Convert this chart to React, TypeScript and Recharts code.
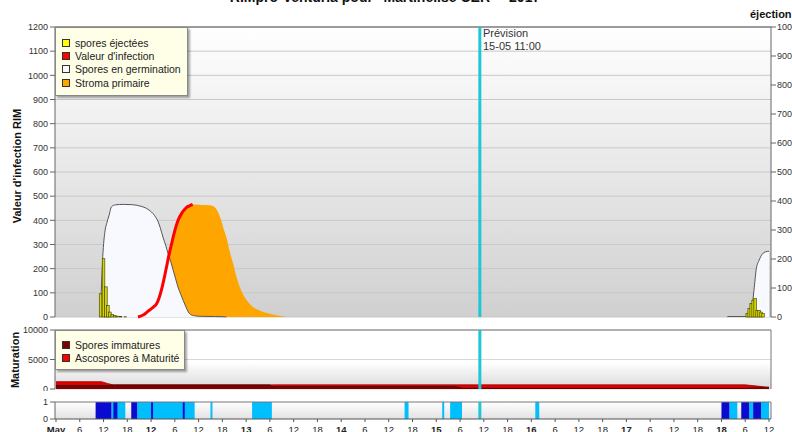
import React from "react";
import { ComposedChart, Area, Line, Bar, XAxis, YAxis, CartesianGrid, ReferenceLine } from "recharts";

const FONT = "'Liberation Sans', Arial, sans-serif";

// hours counted from 11 May 00:00
const germEarly: [number, number][] = [
  [11.2, 0], [11.8, 249], [12.4, 359], [12.8, 387], [13.4, 421], [14, 456], [15, 464], [17, 466], [19, 465],
  [20.5, 462], [21.5, 458], [22.9, 449], [23.7, 440], [24.5, 428], [25.2, 412], [25.8, 394], [26.4, 365],
  [27, 331], [27.7, 296], [28.3, 262], [29, 228], [29.6, 193], [30.2, 158], [30.8, 124], [31.5, 94],
  [32.1, 69], [32.8, 42], [33.4, 21], [34, 10], [35, 5], [36, 3], [40, 2], [42.5, 1], [43, 0],
];
const germLate: [number, number][] = [
  [169.4, 0], [169.6, 2], [174.5, 2], [175.4, 8], [176.2, 110], [176.8, 200], [177.5, 235], [178.3, 260], [179.2, 270], [180, 272],
];
const infection: [number, number][] = [
  [20.7, 0], [22, 8], [23.3, 25], [24.5, 40], [25.4, 55], [26, 78], [26.6, 111], [27.3, 160], [27.9, 207],
  [28.5, 255], [29.2, 304], [29.8, 345], [30.4, 380], [31, 407], [31.7, 428], [32.3, 442], [32.9, 453], [33.7, 460], [34.5, 466],
];
const stroma: [number, number][] = [
  [26, 0], [26.6, 111], [27.3, 160], [27.9, 207], [28.5, 255], [29.2, 304], [29.8, 345], [30.4, 380], [31, 407],
  [31.7, 428], [32.3, 442], [32.9, 453], [33.7, 460], [34.5, 466], [36, 465], [38, 463], [39.5, 460], [40.3, 450],
  [41, 430], [41.7, 400], [42.3, 365], [43, 331], [43.8, 275], [44.7, 221], [45.5, 170], [46.4, 124], [47.6, 83],
  [48.6, 60], [49.7, 41], [51, 30], [52.3, 21], [54, 13], [55.6, 7], [57, 3], [58.6, 0],
];
const sporesEjected: [number, number][] = [
  [11.25, 80], [12, 201], [12.6, 104], [13.1, 40], [13.6, 17], [14.2, 9], [14.8, 5], [15.5, 3], [16.3, 2], [17.5, 1],
  [174.5, 12], [175, 29], [175.5, 46], [176, 58], [176.5, 64], [177, 23], [177.5, 23], [178, 17], [178.5, 12],
];

const matHours = [0, 11.5, 13, 14.5, 54, 55, 101, 102.5, 174, 177, 179, 180];
const immatures = [680, 680, 680, 680, 680, 450, 450, 220, 220, 250, 280, 280];
const matures = [560, 560, 250, 0, 0, 250, 250, 480, 480, 250, 60, 0];

// wet periods [start, end] in hours
const wetLight: [number, number][] = [
  [14, 17.5], [20.5, 35], [39, 39.5], [49.5, 54.5], [88, 89], [97.5, 98], [99.5, 102.5], [121, 122], [170, 172], [175, 176], [178, 180],
];
const wetDark: [number, number][] = [
  [10, 14], [14.5, 15.5], [19, 20.5], [24, 24.5], [32, 32.5], [168, 170], [173, 175], [176, 178],
];

const leftTicks = [0, 100, 200, 300, 400, 500, 600, 700, 800, 900, 1000, 1100, 1200];
const rightTicks = [0, 100, 200, 300, 400, 500, 600, 700, 800, 900, 1000];
const matTicks = [0, 5000, 10000];
const xTicks = [0, 6, 12, 18, 24, 30, 36, 42, 48, 54, 60, 66, 72, 78, 84, 90, 96, 102, 108, 114, 120, 126, 132, 138, 144, 150, 156, 162, 168, 174, 180];
const xTickLabels = ["May", "6", "12", "18", "12", "6", "12", "18", "13", "6", "12", "18", "14", "6", "12", "18", "15", "6", "12", "18", "16", "6", "12", "18", "17", "6", "12", "18", "18", "6", "12"];
const forecastHour = 107;

const mainLegend = [
  { label: "spores éjectées", color: "#ffff00" },
  { label: "Valeur d'infection", color: "#ff0000" },
  { label: "Spores en germination", color: "#f8f8ff" },
  { label: "Stroma primaire", color: "#ffa500" },
];
const matLegend = [
  { label: "Spores immatures", color: "#800000" },
  { label: "Ascospores à Maturité", color: "#ff0000" },
];

function mergeRows(series: Record<string, [number, number][]>) {
  const map = new Map<number, any>();
  for (const [key, pts] of Object.entries(series)) {
    for (const [h, v] of pts) {
      const row = map.get(h) ?? { h };
      row[key] = v;
      map.set(h, row);
    }
  }
  return [...map.values()].sort((a, b) => a.h - b.h);
}
// on/off steps from [start, end] spans
const spanSteps = (spans: [number, number][]) => spans.flatMap(([a, b]) => [[a, 1], [b, 0]] as [number, number][]);

const mainRows = mergeRows({ germA: germEarly, germB: germLate, inf: infection, stroma, spores: sporesEjected });
const matRows = matHours.map((h, i) => ({ h, imm: immatures[i], mat: matures[i] }));
const wetRows = mergeRows({ light: spanSteps(wetLight), dark: spanSteps(wetDark) });

const axisTick = { fontSize: 9, fill: "#333", fontFamily: FONT };
const CYAN = "#1cc8d6";

// band size on a numeric axis gets tiny with uneven x spacing, so draw each bar a fixed 2.6px wide around its centre
function SporeBar(p: any) {
  if (!Number.isFinite(p.height) || !Number.isFinite(p.y) || p.height <= 0) return null;
  const cx = p.x + p.width / 2;
  return <rect x={cx - 1.3} y={p.y} width={2.6} height={p.height} fill="#d4d400" stroke="#3a3a00" strokeWidth={0.6} />;
}

function TimeTick({ x, y, payload }: any) {
  const i = xTicks.indexOf(payload.value);
  const day = payload.value % 24 === 0;
  return (
    <text x={x} y={y} dy={8} textAnchor="middle" fontSize={9.5} fontWeight={day ? 700 : 400} fill="#222" fontFamily={FONT}>
      {xTickLabels[i]}
    </text>
  );
}

function LegendBox({ items, left, top, width, height, padTop, row }: any) {
  return (
    <div style={{ position: "absolute", left, top, width, height, boxSizing: "border-box", background: "#ffffe8",
      border: "1px solid #888", boxShadow: "2px 2px 2px rgba(0,0,0,0.35)", paddingTop: padTop, paddingLeft: 6 }}>
      {items.map((it: any) => (
        <div key={it.label} style={{ display: "flex", alignItems: "center", height: row, fontSize: 10.5, color: "#222", whiteSpace: "nowrap" }}>
          <span style={{ width: 8, height: 8, boxSizing: "border-box", border: "1px solid #333", background: it.color, marginRight: 5 }} />
          {it.label}
        </div>
      ))}
    </div>
  );
}

const rotated = (cx: number, cy: number): React.CSSProperties => ({
  position: "absolute", left: cx, top: cy, transform: "translate(-50%,-50%) rotate(-90deg)",
  whiteSpace: "nowrap", fontSize: 11, fontWeight: 700, color: "#111",
});

export default function App() {
  return (
    <div style={{ position: "absolute", left: 0, top: 0, width: 792, height: 432, overflow: "hidden", background: "white", fontFamily: FONT }}>
      <div style={{ position: "absolute", left: 0, top: -11, width: 770, textAlign: "center", fontSize: 14, fontWeight: 700, color: "#111", whiteSpace: "nowrap" }}>
        RIMpro-Venturia pour "Martinelise CER" - 2017
      </div>

      {/* main RIM panel */}
      <div style={{ position: "absolute", left: 0, top: 0 }}>
        <ComposedChart width={792} height={320} data={mainRows} margin={{ top: 27, right: 0, bottom: 3, left: 0 }}>
          <defs>
            <linearGradient id="bgMain" x1="0" y1="0" x2="0" y2="1">
              <stop offset="0%" stopColor="#ffffff" />
              <stop offset="100%" stopColor="#d0d0d0" />
            </linearGradient>
          </defs>
          <CartesianGrid yAxisId="left" vertical={false} stroke="#c8c8c8" fill="url(#bgMain)" fillOpacity={1} />
          <XAxis dataKey="h" type="number" domain={[0, 180]} ticks={xTicks} allowDataOverflow padding={{ left: 1, right: 2 }}
            height={0} tick={false} tickLine={false} axisLine={{ stroke: "#555" }} />
          <YAxis yAxisId="left" domain={[0, 1200]} ticks={leftTicks} interval={0} width={55} tickSize={5} tickMargin={2}
            tick={axisTick} axisLine={{ stroke: "#666" }} tickLine={{ stroke: "#666" }} />
          <YAxis yAxisId="right" orientation="right" domain={[0, 1000]} ticks={rightTicks} interval={0} width={21} tickSize={5} tickMargin={1}
            tick={axisTick} axisLine={{ stroke: "#666" }} tickLine={{ stroke: "#666" }} />
          <Area yAxisId="left" dataKey="stroma" type="monotone" fill="#ffa500" fillOpacity={1} stroke="none" connectNulls isAnimationActive={false} />
          <Area yAxisId="left" dataKey="germA" type="monotone" fill="#f8f8ff" fillOpacity={1} stroke="#555" strokeWidth={1} connectNulls isAnimationActive={false} />
          <Area yAxisId="left" dataKey="germB" type="monotone" fill="#f8f8ff" fillOpacity={1} stroke="#555" strokeWidth={1} connectNulls isAnimationActive={false} />
          <Line yAxisId="left" dataKey="inf" type="monotone" stroke="#ff0000" strokeWidth={3} dot={false} connectNulls isAnimationActive={false} />
          <Bar yAxisId="right" dataKey="spores" shape={<SporeBar />} isAnimationActive={false} />
          <ReferenceLine yAxisId="left" y={1200} stroke="#555" />
          <ReferenceLine yAxisId="left" x={forecastHour} stroke={CYAN} strokeWidth={3} />
        </ComposedChart>
      </div>

      {/* maturation panel */}
      <div style={{ position: "absolute", left: 0, top: 320 }}>
        <ComposedChart width={792} height={71} data={matRows} margin={{ top: 10, right: 0, bottom: 2, left: 0 }}>
          <defs>
            <linearGradient id="bgMat" x1="0" y1="0" x2="0" y2="1">
              <stop offset="0%" stopColor="#ffffff" />
              <stop offset="55%" stopColor="#ffffff" />
              <stop offset="100%" stopColor="#d8d8d8" />
            </linearGradient>
          </defs>
          <CartesianGrid yAxisId="m" vertical={false} stroke="#d8d8d8" fill="url(#bgMat)" fillOpacity={1} />
          <XAxis dataKey="h" type="number" domain={[0, 180]} allowDataOverflow padding={{ left: 1, right: 2 }}
            height={0} tick={false} tickLine={false} axisLine={{ stroke: "#555" }} />
          <YAxis yAxisId="m" domain={[0, 10000]} ticks={matTicks} interval={0} width={55} tickSize={5} tickMargin={2}
            tick={axisTick} axisLine={{ stroke: "#666" }} tickLine={{ stroke: "#666" }} />
          <YAxis yAxisId="r" orientation="right" domain={[0, 1]} width={21} tick={false} tickLine={false} axisLine={{ stroke: "#777" }} />
          <Area yAxisId="m" dataKey="imm" stackId="s" type="linear" fill="#800000" fillOpacity={1} stroke="#200000" strokeWidth={1} isAnimationActive={false} />
          <Area yAxisId="m" dataKey="mat" stackId="s" type="linear" fill="#e00000" fillOpacity={1} stroke="#990000" strokeWidth={0.8} isAnimationActive={false} />
          <ReferenceLine yAxisId="m" y={10000} stroke="#777" />
          <ReferenceLine yAxisId="m" x={forecastHour} stroke={CYAN} strokeWidth={3} />
        </ComposedChart>
      </div>

      {/* wetness panel */}
      <div style={{ position: "absolute", left: 0, top: 395 }}>
        <ComposedChart width={792} height={44} data={wetRows} margin={{ top: 7, right: 0, bottom: 0, left: 0 }}>
          <defs>
            <linearGradient id="bgWet" x1="0" y1="0" x2="0" y2="1">
              <stop offset="0%" stopColor="#ffffff" />
              <stop offset="100%" stopColor="#e2e2e2" />
            </linearGradient>
          </defs>
          <CartesianGrid yAxisId="w" vertical={false} horizontal={false} fill="url(#bgWet)" fillOpacity={1} />
          <XAxis dataKey="h" type="number" domain={[0, 180]} ticks={xTicks} interval={0} allowDataOverflow padding={{ left: 1, right: 2 }}
            height={20} tickSize={3} tickMargin={3} tick={<TimeTick />} tickLine={{ stroke: "#555" }} axisLine={{ stroke: "#555" }} />
          <YAxis yAxisId="w" domain={[0, 1]} ticks={[0, 1]} interval={0} width={55} tickSize={5} tickMargin={2}
            tick={axisTick} axisLine={{ stroke: "#666" }} tickLine={{ stroke: "#666" }} />
          <YAxis yAxisId="r" orientation="right" domain={[0, 1]} width={21} tick={false} tickLine={false} axisLine={{ stroke: "#777" }} />
          <Area yAxisId="w" dataKey="light" type="stepAfter" fill="#00bfff" fillOpacity={1} stroke="none" connectNulls isAnimationActive={false} />
          <Area yAxisId="w" dataKey="dark" type="stepAfter" fill="#0a0ad0" fillOpacity={1} stroke="none" connectNulls isAnimationActive={false} />
          <ReferenceLine yAxisId="w" y={1} stroke="#777" />
          <ReferenceLine yAxisId="w" x={forecastHour} stroke={CYAN} strokeWidth={3} />
        </ComposedChart>
      </div>

      <LegendBox items={mainLegend} left={55} top={27} width={133} height={69} padTop={8} row={13.4} />
      <LegendBox items={matLegend} left={55} top={330} width={130} height={40} padTop={7.5} row={13} />

      <div style={{ position: "absolute", left: 483, top: 27, fontSize: 11, lineHeight: "13px", color: "#333" }}>
        Prévision<br />15-05 11:00
      </div>
      <div style={{ position: "absolute", left: 750, top: 8, fontSize: 11, fontWeight: 700, color: "#111", lineHeight: "13px", whiteSpace: "nowrap" }}>
        éjection
      </div>
      <div style={rotated(17, 166)}>Valeur d'infection RIM</div>
      <div style={rotated(15, 360)}>Maturation</div>
    </div>
  );
}
